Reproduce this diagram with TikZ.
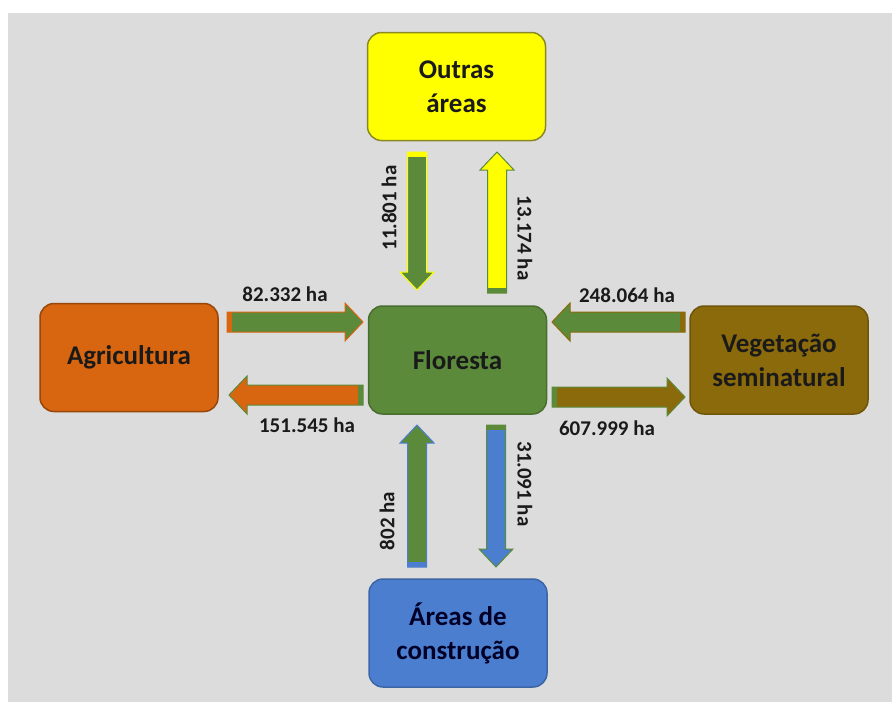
\documentclass[tikz,border=0pt]{standalone}
\usepackage{fontspec}
\setmainfont{Carlito}
\usetikzlibrary{calc}
\definecolor{bg}{HTML}{DCDCDC}
\definecolor{cyel}{HTML}{FFFF00}
\definecolor{cora}{HTML}{D8650F}
\definecolor{cgrn}{HTML}{5B8A3A}
\definecolor{cbrn}{HTML}{8B6A0C}
\definecolor{cblu}{HTML}{4C7ED0}
\definecolor{txt}{HTML}{1A1A1A}
\newcommand{\bkarrow}[6]{%
  \coordinate (hb) at ($(#2)!18pt!(#1)$);
  \coordinate (tb) at ($(#1)!5pt!(#2)$);
  \filldraw[fill=#3,draw=#4,line width=1pt,line join=miter]
    ($(#1)!#5!90:(#2)$) -- ($(hb)!#5!90:(#2)$) -- ($(hb)!#6!90:(#2)$) -- (#2)
    -- ($(hb)!#6!-90:(#2)$) -- ($(hb)!#5!-90:(#2)$) -- ($(#1)!#5!-90:(#2)$) -- cycle;
  \fill[#4] ($(#1)!#5!90:(#2)$) -- ($(tb)!#5!90:(#2)$) -- ($(tb)!#5!-90:(#2)$) -- ($(#1)!#5!-90:(#2)$) -- cycle;
}
\begin{document}
\begin{tikzpicture}[x=1pt,y=-1pt,
  box/.style={rounded corners=14pt, minimum width=178pt, minimum height=108pt,
    line width=1.5pt, align=center, inner sep=0pt, text=txt,
    font=\bfseries\fontsize{27}{34}\selectfont},
  lbl/.style={inner sep=0pt, text=txt, font=\bfseries\fontsize{21}{24}\selectfont}]
\useasboundingbox (0,0) rectangle (892,702);
\fill[white] (0,0) rectangle (892,702);
\fill[bg] (8,13) rectangle (892,702);

\node[box, fill=cyel, draw=cyel!55!black!70!gray] (outras) at (456.5,86.5) {Outras\\áreas};
\node[box, fill=cora, draw=cora!70!black] (agri) at (129,357.5) {Agricultura};
\node[box, fill=cgrn, draw=cgrn!80!black] (flor) at (457.5,360) {Floresta};
\node[box, fill=cbrn, draw=cbrn!80!black] (veg) at (779,360) {Vegetação\\seminatural};
\node[box, fill=cblu, draw=cblu!80!black, text=black!85!blue] (const) at (458,633) {Áreas de\\construção};

% arrow ends
\coordinate (a1s) at (227,322); \coordinate (a1e) at (363,322);
\coordinate (a2s) at (363,395); \coordinate (a2e) at (229,395);
\coordinate (a3s) at (685,322); \coordinate (a3e) at (552,322);
\coordinate (a4s) at (552,397); \coordinate (a4e) at (685,397);
\coordinate (a5s) at (417,152); \coordinate (a5e) at (417,290);
\coordinate (a6s) at (497,293); \coordinate (a6e) at (497,152);
\coordinate (a7s) at (417,567); \coordinate (a7e) at (417,425);
\coordinate (a8s) at (496,425); \coordinate (a8e) at (496,567);

\bkarrow{a1s}{a1e}{cgrn}{cora}{10pt}{19pt}
\bkarrow{a2s}{a2e}{cora}{cgrn}{10pt}{19pt}
\bkarrow{a3s}{a3e}{cgrn}{cbrn}{10pt}{19pt}
\bkarrow{a4s}{a4e}{cbrn}{cgrn}{10pt}{19pt}
\bkarrow{a5s}{a5e}{cgrn}{cyel}{9.5pt}{17pt}
\bkarrow{a6s}{a6e}{cyel}{cgrn}{9.5pt}{17pt}
\bkarrow{a7s}{a7e}{cgrn}{cblu}{9.5pt}{17pt}
\bkarrow{a8s}{a8e}{cblu}{cgrn}{9.5pt}{17pt}

\node[lbl] (l1) at (285,294) {82.332 ha};
\node[lbl] (l2) at (307,425) {151.545 ha};
\node[lbl] (l3) at (627,295) {248.064 ha};
\node[lbl] (l4) at (607,428) {607.999 ha};
\node[lbl, rotate=90] (l5) at (389,208) {11.801 ha};
\node[lbl, rotate=-90] (l6) at (525,238) {13.174 ha};
\node[lbl, rotate=90] (l7) at (387,521) {802 ha};
\node[lbl, rotate=-90] (l8) at (525,484) {31.091 ha};
\end{tikzpicture}
\end{document}
